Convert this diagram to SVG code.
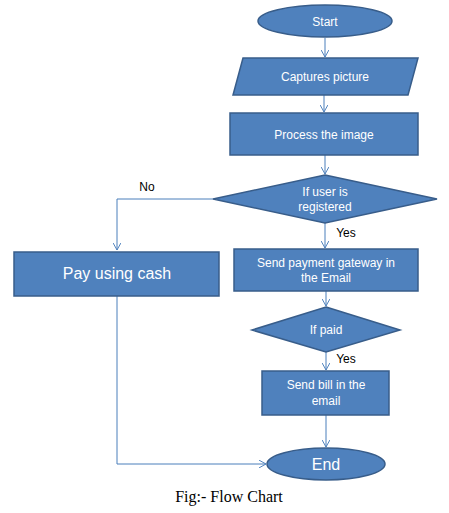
<svg xmlns="http://www.w3.org/2000/svg" width="449" height="513" viewBox="0 0 449 513">
<style>
.shape{fill:#4F81BD;stroke:#385D8A;stroke-width:1.5}
.t{font-family:"Liberation Sans",Arial,sans-serif;font-size:12px;fill:#fff;text-anchor:middle}
.big{font-size:16px}
.lbl{font-family:"Liberation Sans",Arial,sans-serif;font-size:12px;fill:#000}
.c{fill:none;stroke:#4A7EBB;stroke-width:1}
</style>
<defs>
<marker id="arr" viewBox="0 0 10 10" refX="9" refY="5" markerWidth="8" markerHeight="8" orient="auto" markerUnits="userSpaceOnUse">
<path d="M0,0 L9,5 L0,10" fill="none" stroke="#4A7EBB" stroke-width="1.2"/>
</marker>
</defs>
<rect width="449" height="513" fill="#fff"/>
<g id="connectors">
<path class="c" d="M325,38 V57" marker-end="url(#arr)"/>
<path class="c" d="M324,95 V112" marker-end="url(#arr)"/>
<path class="c" d="M325,155 V174" marker-end="url(#arr)"/>
<path class="c" d="M213,199 H117 V250" marker-end="url(#arr)"/>
<path class="c" d="M325,223 V248" marker-end="url(#arr)"/>
<path class="c" d="M326,291 V306" marker-end="url(#arr)"/>
<path class="c" d="M326,352 V370" marker-end="url(#arr)"/>
<path class="c" d="M326,415 V447" marker-end="url(#arr)"/>
<path class="c" d="M117,296 V464 H266" marker-end="url(#arr)"/>
<text class="lbl" x="147" y="191" text-anchor="middle">No</text>
<text class="lbl" x="346" y="237" text-anchor="middle">Yes</text>
<text class="lbl" x="346" y="363" text-anchor="middle">Yes</text>
</g>
<g id="start">
<ellipse class="shape" cx="325" cy="21" rx="67" ry="16"/>
<text class="t" x="325" y="26">Start</text>
</g>
<g id="capture">
<polygon class="shape" points="243,58 418,58 408,95 233,95"/>
<text class="t" x="325" y="81">Captures picture</text>
</g>
<g id="process">
<rect class="shape" x="230" y="113" width="188" height="42"/>
<text class="t" x="324" y="139">Process the image</text>
</g>
<g id="registered">
<polygon class="shape" points="325,175 437,199 325,223 213,199"/>
<text class="t" x="325" y="196">If user is</text>
<text class="t" x="325" y="211">registered</text>
</g>
<g id="cash">
<rect class="shape" x="14" y="252" width="205" height="44"/>
<text class="t big" x="117" y="279">Pay using cash</text>
</g>
<g id="gateway">
<rect class="shape" x="234" y="249" width="184" height="42"/>
<text class="t" x="326" y="267">Send payment gateway in</text>
<text class="t" x="326" y="282">the Email</text>
</g>
<g id="paid">
<polygon class="shape" points="326,307 400,330 326,352 252,330"/>
<text class="t" x="326" y="334">If paid</text>
</g>
<g id="bill">
<rect class="shape" x="262" y="371" width="127" height="44"/>
<text class="t" x="326" y="389">Send bill in the</text>
<text class="t" x="326" y="405">email</text>
</g>
<g id="end">
<ellipse class="shape" cx="326" cy="464" rx="59" ry="16"/>
<text class="t big" x="326" y="470">End</text>
</g>
<text x="229" y="502" font-family="'Liberation Serif','Times New Roman',serif" font-size="16" text-anchor="middle" fill="#000">Fig:- Flow Chart</text>
</svg>
